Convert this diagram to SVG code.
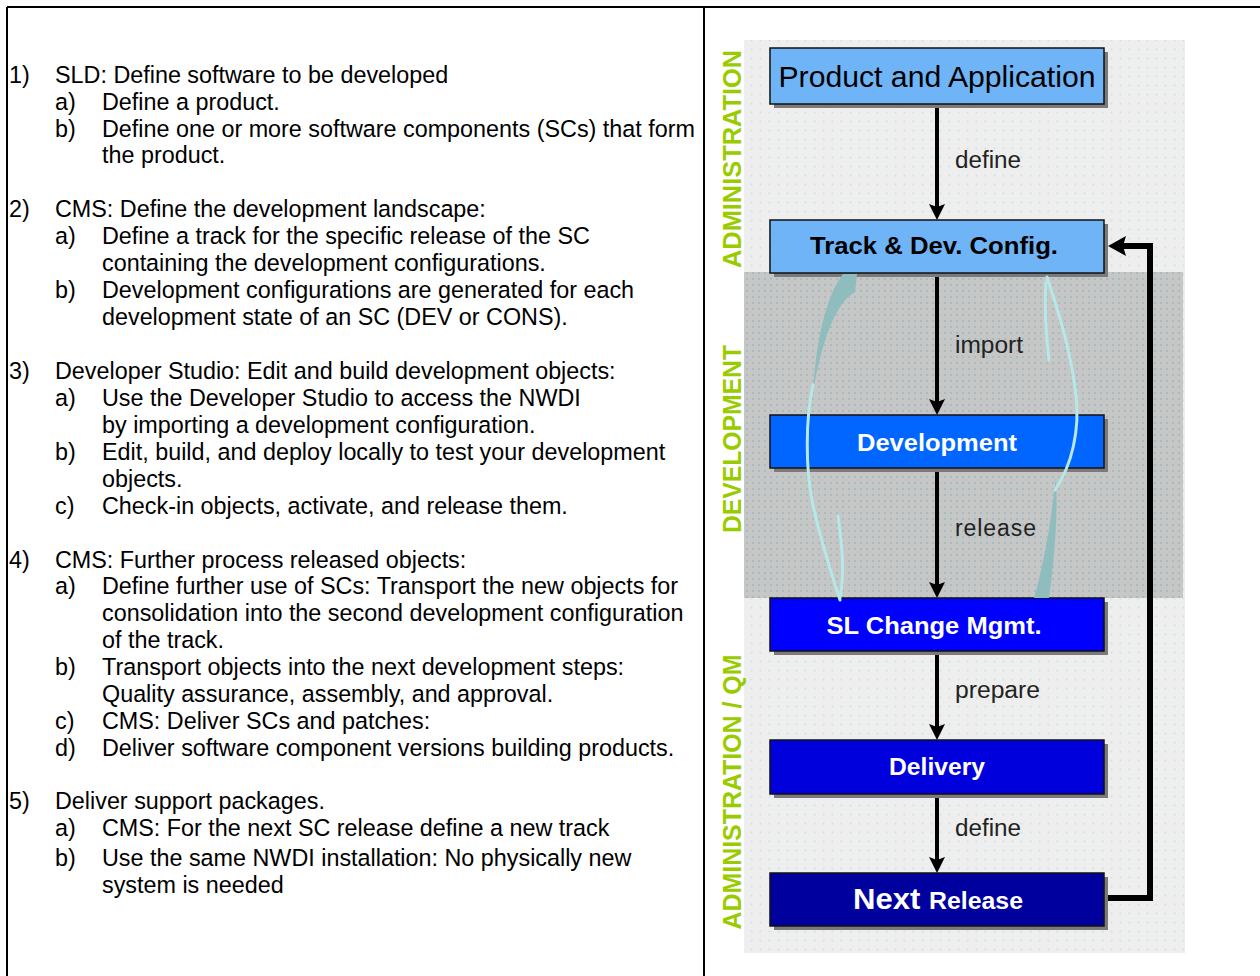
<svg xmlns="http://www.w3.org/2000/svg" width="1260" height="976" viewBox="0 0 1260 976">
  <style>
    .note { font-family: "Liberation Sans", Arial, sans-serif; font-size: 23.35px; fill: #000; }
    .box { stroke: #111; stroke-width: 1.5; }
    .shadow { fill: #7a7a7a; }
    .boxtxt { font-family: "Liberation Sans", Arial, sans-serif; font-weight: bold; font-size: 24px; text-anchor: middle; }
    .lbl { font-family: "Liberation Sans", Arial, sans-serif; font-size: 23px; fill: #222; }
    .phase { font-family: "Liberation Sans", Arial, sans-serif; font-weight: bold; font-size: 26px; fill: #99cc00; text-anchor: middle; }
    .flow { stroke: #000; stroke-width: 4; fill: none; }
    .ret { stroke: #000; stroke-width: 6; fill: none; }
    .cyan { stroke: #b6e8e8; fill: none; stroke-linecap: round; }
    .teal { fill: #8fbcbc; }
  </style>
  <defs>
    <pattern id="dotsLight" width="9" height="9" patternUnits="userSpaceOnUse">
      <rect width="9" height="9" fill="#eeeeee"/>
      <circle cx="4.5" cy="4.5" r="0.9" fill="#c9e3e3"/>
    </pattern>
    <pattern id="dotsGray" width="6" height="6" patternUnits="userSpaceOnUse">
      <rect width="6" height="6" fill="#c6c6c6"/>
      <circle cx="3" cy="3" r="0.9" fill="#93baba"/>
    </pattern>
    <marker id="head" viewBox="0 -10 20 20" refX="4" refY="0" markerWidth="20" markerHeight="20" markerUnits="userSpaceOnUse" orient="auto">
      <path d="M0,-8 L16,0 L0,8 L3,0 Z" fill="#000"/>
    </marker>
    <marker id="headBig" viewBox="0 -12 22 24" refX="5" refY="0" markerWidth="22" markerHeight="24" markerUnits="userSpaceOnUse" orient="auto">
      <path d="M0,-10 L18,0 L0,10 L3,0 Z" fill="#000"/>
    </marker>
  </defs>

  <rect width="1260" height="976" fill="#ffffff"/>

  <!-- table frame -->
  <g id="frame" stroke="#000" stroke-width="2">
    <line x1="7" y1="7" x2="1260" y2="7"/>
    <line x1="7" y1="7" x2="7" y2="976"/>
    <line x1="704" y1="7" x2="704" y2="976"/>
  </g>

  <!-- numbered process steps -->
  <g id="notes" class="note">
    <text x="9" y="83">1)</text><text x="55" y="83">SLD: Define software to be developed</text>
    <text x="55" y="110">a)</text><text x="102" y="110">Define a product.</text>
    <text x="55" y="137">b)</text><text x="102" y="137">Define one or more software components (SCs) that form</text>
    <text x="102" y="163">the product.</text>

    <text x="9" y="217">2)</text><text x="55" y="217">CMS: Define the development landscape:</text>
    <text x="55" y="244">a)</text><text x="102" y="244">Define a track for the specific release of the SC</text>
    <text x="102" y="271">containing the development configurations.</text>
    <text x="55" y="298">b)</text><text x="102" y="298">Development configurations are generated for each</text>
    <text x="102" y="325">development state of an SC (DEV or CONS).</text>

    <text x="9" y="379">3)</text><text x="55" y="379">Developer Studio: Edit and build development objects:</text>
    <text x="55" y="406">a)</text><text x="102" y="406">Use the Developer Studio to access the NWDI</text>
    <text x="102" y="433">by importing a development configuration.</text>
    <text x="55" y="460">b)</text><text x="102" y="460">Edit, build, and deploy locally to test your development</text>
    <text x="102" y="487">objects.</text>
    <text x="55" y="514">c)</text><text x="102" y="514">Check-in objects, activate, and release them.</text>

    <text x="9" y="568">4)</text><text x="55" y="568">CMS:  Further process released objects:</text>
    <text x="55" y="594">a)</text><text x="102" y="594">Define further use of SCs: Transport the new objects for</text>
    <text x="102" y="621">consolidation into the second development configuration</text>
    <text x="102" y="648">of the track.</text>
    <text x="55" y="675">b)</text><text x="102" y="675">Transport objects into the next development steps:</text>
    <text x="102" y="702">Quality assurance, assembly, and approval.</text>
    <text x="55" y="729">c)</text><text x="102" y="729">CMS: Deliver SCs and patches:</text>
    <text x="55" y="756">d)</text><text x="102" y="756">Deliver software component versions building products.</text>

    <text x="9" y="809">5)</text><text x="55" y="809">Deliver support packages.</text>
    <text x="55" y="836">a)</text><text x="102" y="836">CMS: For the next SC release define a new track</text>
    <text x="55" y="866">b)</text><text x="102" y="866">Use the same NWDI installation: No physically new</text>
    <text x="102" y="893">system is needed</text>
  </g>

  <!-- background panel with phase bands -->
  <g id="panel">
    <rect x="744" y="40" width="441" height="913" fill="url(#dotsLight)"/>
    <rect x="744" y="272" width="439" height="326" fill="url(#dotsGray)"/>
  </g>

  <!-- phase captions -->
  <g id="phases" class="phase">
    <text transform="translate(741,159) rotate(-90)" textLength="218" lengthAdjust="spacingAndGlyphs">ADMINISTRATION</text>
    <text transform="translate(741,439) rotate(-90)" textLength="188" lengthAdjust="spacingAndGlyphs">DEVELOPMENT</text>
    <text transform="translate(741,792) rotate(-90)" textLength="275" lengthAdjust="spacingAndGlyphs">ADMINISTRATION / QM</text>
  </g>

  <!-- connectors -->
  <g id="connectors">
    <line class="flow" x1="937" y1="104" x2="937" y2="208" marker-end="url(#head)"/>
    <line class="flow" x1="937" y1="273" x2="937" y2="403" marker-end="url(#head)"/>
    <line class="flow" x1="937" y1="468" x2="937" y2="586" marker-end="url(#head)"/>
    <line class="flow" x1="937" y1="651" x2="937" y2="728" marker-end="url(#head)"/>
    <line class="flow" x1="937" y1="794" x2="937" y2="861" marker-end="url(#head)"/>
    <polyline class="ret" points="1104,898 1150,898 1150,246 1121,246" marker-end="url(#headBig)"/>
    <text class="lbl" x="955" y="168" textLength="66" lengthAdjust="spacingAndGlyphs">define</text>
    <text class="lbl" x="955" y="353" textLength="68" lengthAdjust="spacingAndGlyphs">import</text>
    <text class="lbl" x="955" y="536" textLength="81" lengthAdjust="spacing">release</text>
    <text class="lbl" x="955" y="698" textLength="85" lengthAdjust="spacingAndGlyphs">prepare</text>
    <text class="lbl" x="955" y="836" textLength="66" lengthAdjust="spacingAndGlyphs">define</text>
  </g>

  <!-- nodes -->
  <g id="product">
    <rect class="shadow" x="774" y="52" width="334" height="56"/>
    <rect class="box" x="770" y="48" width="334" height="56" fill="#6fb4f6"/>
    <text x="937" y="87" font-family="Liberation Sans, Arial, sans-serif" font-size="30" text-anchor="middle" fill="#000" textLength="317" lengthAdjust="spacingAndGlyphs">Product and Application</text>
  </g>
  <g id="track">
    <rect class="shadow" x="774" y="224" width="334" height="53"/>
    <rect class="box" x="770" y="220" width="334" height="53" fill="#6fb4f6"/>
    <text class="boxtxt" x="934" y="254" fill="#000" textLength="248" lengthAdjust="spacingAndGlyphs">Track &amp; Dev. Config.</text>
  </g>
  <g id="development">
    <rect class="shadow" x="774" y="419" width="334" height="53"/>
    <rect class="box" x="770" y="415" width="334" height="53" fill="#0066ff"/>
    <text class="boxtxt" x="937" y="451" fill="#fff" textLength="160" lengthAdjust="spacingAndGlyphs">Development</text>
  </g>
  <g id="slchange">
    <rect class="shadow" x="774" y="602" width="334" height="53"/>
    <rect class="box" x="770" y="598" width="334" height="53" fill="#0000ff"/>
    <text class="boxtxt" x="934" y="634" fill="#fff" textLength="215" lengthAdjust="spacingAndGlyphs">SL Change Mgmt.</text>
  </g>
  <g id="delivery">
    <rect class="shadow" x="774" y="744" width="334" height="54"/>
    <rect class="box" x="770" y="740" width="334" height="54" fill="#0000dd"/>
    <text class="boxtxt" x="937" y="775" fill="#fff" textLength="96" lengthAdjust="spacingAndGlyphs">Delivery</text>
  </g>
  <g id="nextrelease">
    <rect class="shadow" x="774" y="877" width="334" height="53"/>
    <rect class="box" x="770" y="873" width="334" height="53" fill="#00009e"/>
    <text x="938" y="909" font-family="Liberation Sans, Arial, sans-serif" font-weight="bold" fill="#fff" text-anchor="middle" textLength="170" lengthAdjust="spacingAndGlyphs"><tspan font-size="30">Next </tspan><tspan font-size="24">Release</tspan></text>
  </g>

  <!-- iterative development loop (ribbon arrows) -->
  <g id="loop">
    <path class="teal" d="M843,274 L857,274 L855,292 C836,302 822,340 813,392 C817,330 829,292 843,274 Z"/>
    <path class="cyan" stroke-width="3" d="M813,385 C805,420 806,470 812,500 C820,540 832,575 840,600"/>
    <path class="cyan" stroke-width="3" d="M838,516 C842,545 845,572 840,598"/>
    <path class="teal" d="M1034,598 L1049,598 C1054,560 1058,520 1056,478 C1051,520 1045,560 1034,598 Z"/>
    <path class="cyan" stroke-width="3" d="M1055,490 C1072,465 1080,430 1076,395 C1070,345 1056,305 1047,277"/>
    <path class="cyan" stroke-width="3" d="M1046,282 C1044,310 1046,335 1049,360"/>
  </g>
</svg>
